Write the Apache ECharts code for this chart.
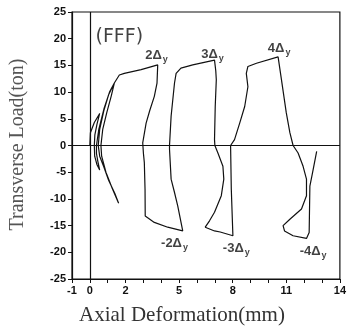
<!DOCTYPE html>
<html>
<head>
<meta charset="utf-8">
<script src="https://cdn.jsdelivr.net/npm/echarts@6/dist/echarts.min.js"></script>
<style>
  html, body { margin: 0; padding: 0; background: #fff; }
  #chart { width: 349px; height: 331px; }
</style>
</head>
<body>
<div id="chart"></div>
<script>
// 各阶段滞回曲线 [轴向变形(mm), 横向荷载(ton)]
const cycle1 = [
  [0, 0], [0.03, 2.4], [0.25, 4.3], [0.55, 6], [0.4, 4], [0.28, 2], [0.25, 0],
  [0.27, -2], [0.4, -3.6], [0.55, -4.6], [0.45, -3], [0.37, -1.5], [0.37, 0],
  [0.5, 3], [0.8, 7], [1.1, 10], [1.37, 11.7], [1.2, 9.3], [0.95, 6.2],
  [0.72, 3], [0.62, 0], [0.66, -2], [0.9, -5], [1.25, -8], [1.61, -10.8],
  [1.4, -9], [1.05, -6.5], [0.78, -4], [0.55, -2], [0.47, 0], [0.55, 3],
  [0.78, 6.5], [1.05, 9.5], [1.37, 11.7]
];
const cycle2 = [
  [1.37, 11.7], [1.65, 13.2], [1.93, 13.5], [2.87, 14.2], [3.8, 15.1],
  [3.76, 11.7], [3.61, 9.2], [3.35, 6.5], [3.15, 4.2], [2.96, 0.5],
  [3.0, -1.5], [3.05, -3.2], [3.09, -8.2], [3.1, -13.2], [3.61, -14.4],
  [4.36, -15.3], [5.2, -16.0]
];
const cycle3 = [
  [5.2, -16.0], [4.92, -11.3], [4.74, -8.8], [4.55, -6.3], [4.46, -0.7],
  [4.46, 0], [4.55, 5.5], [4.74, 11.7], [4.83, 13.5], [5.1, 14.5],
  [5.76, 15.1], [6.98, 16.0], [7.05, 14], [7.08, 12.3], [7.02, 7.3],
  [6.98, 1.1], [7.0, 0], [7.17, -1.4], [7.45, -3.9], [7.5, -6.3],
  [7.36, -9.4], [6.98, -12.5], [6.7, -14.1], [6.46, -15.3], [6.98, -16.0],
  [7.3, -16.2], [8.01, -16.9], [7.92, -8.2], [7.88, 0]
];
const cycle4 = [
  [7.88, 0], [8.1, 1.1], [8.39, 4.2], [8.67, 7.3], [8.85, 11], [8.76, 13.5],
  [8.85, 14.8], [9.33, 15.4], [10.54, 16.6], [10.73, 12.3], [11.0, 6.1],
  [11.2, 2.4], [11.38, 0], [11.66, -1.4], [11.94, -3.9], [12.13, -6.3],
  [12.13, -9.4], [11.85, -11.9], [11.2, -13.8], [10.82, -15.0], [10.9, -16.0],
  [11.38, -16.9], [12.13, -17.4], [12.28, -16.3], [12.32, -7.6],
  [12.47, -5.1], [12.7, -1.1]
];

// x轴只显示这几个刻度标签
const xTickLabels = [-1, 0, 2, 5, 8, 11, 14];

// 图中的标注文字及其位置(数据坐标)
const noteText = ['(FFF)', '2Δ|y', '3Δ|y', '4Δ|y', '-2Δ|y', '-3Δ|y', '-4Δ|y'];
const noteX = [1.65, 3.73, 6.87, 10.6, 4.74, 8.2, 12.5];
const noteY = [20.3, 16.9, 17.1, 18.1, -18.4, -19.2, -19.9];

const myChart = echarts.init(document.getElementById('chart'));

const curveData = [].concat(cycle1, cycle2.slice(1), cycle3.slice(1), cycle4.slice(1));

const noteData = noteText.map((t, i) => ({ value: [noteX[i], noteY[i]], name: t }));

const tickFont = {
  color: '#111',
  fontFamily: 'Liberation Sans',
  fontWeight: 'bold',
  fontSize: 11
};

const option = {
  animation: false,
  backgroundColor: '#fff',
  grid: {
    left: 72,
    right: 8,
    top: 12,
    bottom: 51,
    show: true,
    borderColor: '#111',
    borderWidth: 1.2
  },
  xAxis: {
    type: 'value',
    min: -1,
    max: 14,
    interval: 1,
    name: 'Axial Deformation(mm)',
    nameLocation: 'middle',
    nameGap: 26,
    nameTextStyle: {
      fontFamily: 'Liberation Serif',
      fontSize: 21,
      color: '#333',
      padding: [0, 48, 0, 0]
    },
    axisLine: { onZero: false, lineStyle: { color: '#111', width: 1.2 } },
    axisTick: { inside: false, length: 4, lineStyle: { color: '#111' } },
    splitLine: { show: false },
    axisLabel: Object.assign({
      margin: 6,
      formatter(v) {
        return xTickLabels.indexOf(v) >= 0 ? String(v) : '';
      }
    }, tickFont)
  },
  yAxis: {
    type: 'value',
    min: -25,
    max: 25,
    interval: 5,
    name: 'Transverse Load(ton)',
    nameLocation: 'middle',
    nameGap: 44,
    nameTextStyle: {
      fontFamily: 'Liberation Serif',
      fontSize: 20,
      color: '#555',
      padding: [0, 0, 0, 2]
    },
    axisLine: { onZero: false, lineStyle: { color: '#111', width: 1.2 } },
    axisTick: { inside: false, length: 4, lineStyle: { color: '#111' } },
    splitLine: { show: false },
    axisLabel: Object.assign({ margin: 6 }, tickFont)
  },
  series: [
    {
      name: 'FFF',
      type: 'line',
      data: curveData,
      showSymbol: false,
      symbol: 'none',
      lineStyle: { color: '#111', width: 1.2 },
      markLine: {
        silent: true,
        symbol: 'none',
        label: { show: false },
        lineStyle: { color: '#111', width: 1.2, type: 'solid' },
        data: [{ xAxis: 0 }, { yAxis: 0 }]
      }
    },
    {
      name: 'notes',
      type: 'scatter',
      data: noteData,
      symbolSize: 1,
      itemStyle: { color: 'rgba(0,0,0,0)' },
      silent: true,
      z: 5,
      label: {
        show: true,
        position: 'inside',
        color: '#111',
        formatter(p) {
          const parts = p.name.split('|');
          if (parts.length === 1) {
            return '{big|' + parts[0] + '}';
          }
          return '{m|' + parts[0] + '}{s|' + parts[1] + '}';
        },
        rich: {
          big: { fontFamily: 'DejaVu Sans', fontSize: 19, color: '#111' },
          m: { fontFamily: 'Liberation Sans', fontWeight: 'bold', fontSize: 13, color: '#111' },
          s: { fontFamily: 'Liberation Sans', fontWeight: 'bold', fontSize: 9, color: '#111', padding: [8, 0, 0, 1] }
        }
      }
    }
  ]
};

// 使用刚指定的配置项和数据显示图表。
myChart.setOption(option);
</script>
</body>
</html>
